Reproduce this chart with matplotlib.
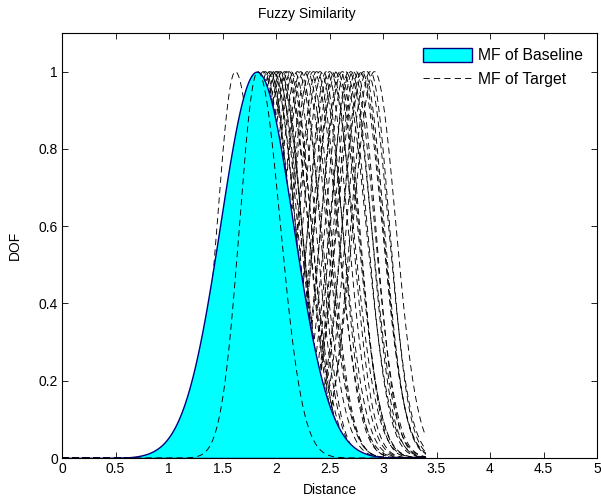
import numpy as np
import matplotlib
matplotlib.use("Agg")
import matplotlib.pyplot as plt

plt.rcParams['font.family'] = ['Liberation Sans', 'DejaVu Sans']
plt.rcParams['lines.scale_dashes'] = False

# ---- data ----
baseline_center = 1.82
baseline_sigma = 0.34

# target membership functions (two-sided gaussian): centre, left sigma, right sigma
target_centers = [1.62, 1.88, 1.90, 1.92, 1.94, 1.95, 1.97, 1.98, 2.00, 2.01,
                  2.03, 2.04, 2.06, 2.08, 2.10, 2.12, 2.14, 2.17, 2.20, 2.23,
                  2.26, 2.29, 2.32, 2.35, 2.38, 2.41, 2.44, 2.47, 2.50, 2.52,
                  2.55, 2.57, 2.60, 2.62, 2.65, 2.68, 2.70, 2.72, 2.75, 2.78,
                  2.80, 2.82, 2.85, 2.88, 2.92]
target_sig_left = [0.17, 0.18, 0.19, 0.17, 0.20, 0.18, 0.19, 0.21, 0.18, 0.20,
                   0.19, 0.17, 0.20, 0.18, 0.19, 0.21, 0.18, 0.20, 0.19, 0.17,
                   0.20, 0.18, 0.19, 0.21, 0.18, 0.20, 0.19, 0.17, 0.20, 0.18,
                   0.19, 0.21, 0.18, 0.20, 0.19, 0.17, 0.20, 0.18, 0.19, 0.21,
                   0.18, 0.20, 0.19, 0.18, 0.20]
target_sig_right = [0.20, 0.21, 0.19, 0.22, 0.20, 0.18, 0.21, 0.20, 0.22, 0.19,
                    0.21, 0.20, 0.18, 0.22, 0.20, 0.21, 0.19, 0.20, 0.22, 0.18,
                    0.21, 0.20, 0.19, 0.22, 0.20, 0.21, 0.18, 0.20, 0.22, 0.19,
                    0.21, 0.20, 0.18, 0.22, 0.20, 0.21, 0.19, 0.20, 0.18, 0.21,
                    0.20, 0.19, 0.20, 0.18, 0.20]
inner_center = 1.83
inner_sig_left = 0.17
inner_sig_right = 0.21

x_max_data = 3.4
xticks = [0, 0.5, 1, 1.5, 2, 2.5, 3, 3.5, 4, 4.5, 5]
yticks = [0, 0.2, 0.4, 0.6, 0.8, 1]


def gauss2(x, c, s1, s2):
    y = np.where(x < c, np.exp(-(x - c) ** 2 / (2 * s1 ** 2)),
                 np.exp(-(x - c) ** 2 / (2 * s2 ** 2)))
    return y


W, H = 601, 499
fig = plt.figure(figsize=(W / 100, H / 100), dpi=100)
ax = fig.add_axes([62 / W, 41 / H, 535 / W, 425 / H])

x = np.linspace(0, x_max_data, 700)

for c, s1, s2 in zip(target_centers, target_sig_left, target_sig_right):
    ax.plot(x, gauss2(x, c, s1, s2), color='black', lw=0.65,
            dashes=(4.5, 3.0), zorder=1)

yb = np.exp(-(x - baseline_center) ** 2 / (2 * baseline_sigma ** 2))
ax.fill_between(x, 0, yb, facecolor=(0, 1, 1), edgecolor='#000080',
                linewidth=1.0, zorder=2, label='MF of Baseline')

ax.plot(x, gauss2(x, inner_center, inner_sig_left, inner_sig_right),
        color='black', lw=0.65, dashes=(4.5, 3.0), zorder=3, label='MF of Target')

ax.set_xlim(0, 5)
ax.set_ylim(0, 1.1)
ax.set_xticks(xticks)
ax.set_xticklabels([f'{t:g}' for t in xticks])
ax.set_yticks(yticks)
ax.set_yticklabels([f'{t:g}' for t in yticks])
ax.tick_params(direction='in', top=True, right=True, length=4, width=0.6,
               labelsize=10, pad=3)
for sp in ax.spines.values():
    sp.set_linewidth(0.8)

fig.text(307 / W, 1 - 14 / H, 'Fuzzy Similarity', fontsize=10,
         ha='center', va='center')
ax.set_xlabel('Distance', fontsize=10, labelpad=5)
ax.set_ylabel('DOF', fontsize=10, labelpad=12)

leg = ax.legend(loc='upper right', frameon=False, fontsize=11.3,
                handlelength=3.1, handleheight=0.95, borderaxespad=0,
                borderpad=0, labelspacing=0.55, handletextpad=0.4,
                bbox_to_anchor=(583 / W, 1 - 48 / H),
                bbox_transform=fig.transFigure)

fig.savefig('out.png', dpi=100)
